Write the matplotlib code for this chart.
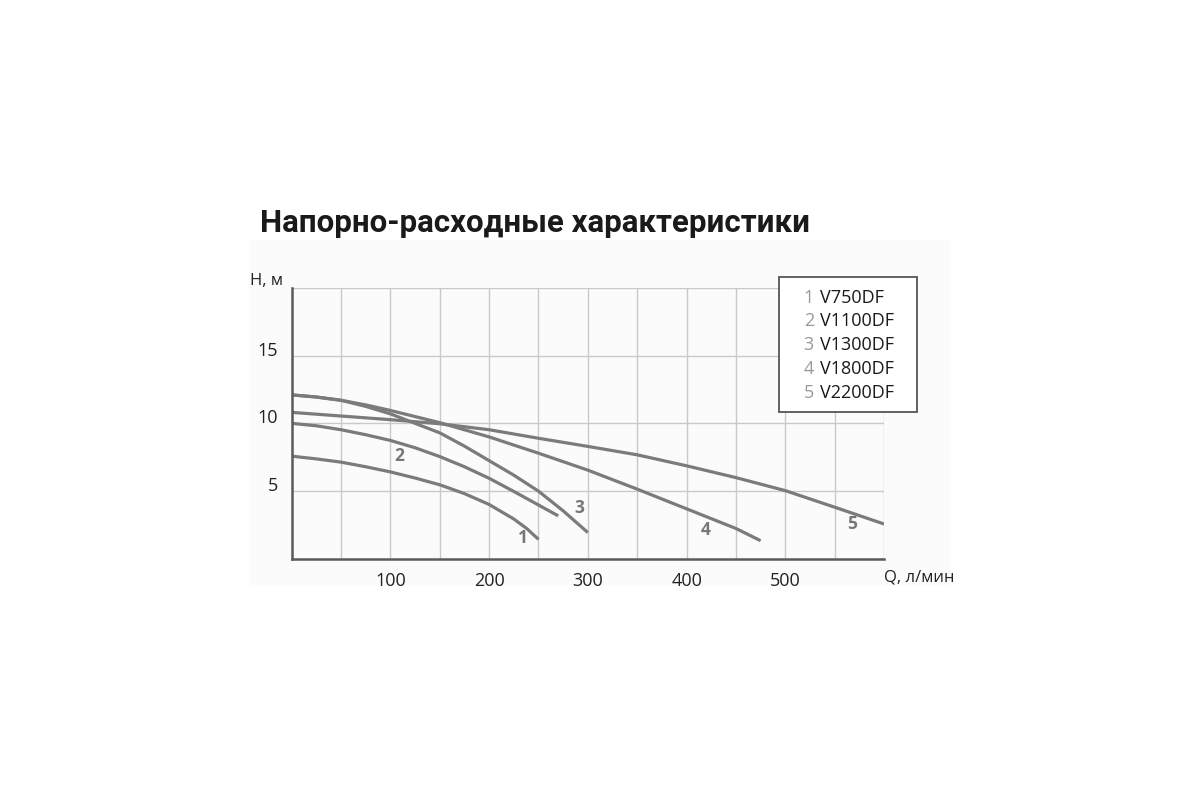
import matplotlib
matplotlib.use("Agg")
import matplotlib.pyplot as plt
from matplotlib.patches import Rectangle

# ---- data ----
q1 = [0, 25, 50, 75, 100, 125, 150, 175, 200, 225, 238, 250]
h1 = [7.58, 7.38, 7.14, 6.8, 6.42, 5.97, 5.47, 4.82, 4.02, 2.95, 2.25, 1.45]
q2 = [0, 25, 50, 75, 100, 125, 150, 175, 200, 225, 250, 270]
h2 = [10.0, 9.82, 9.53, 9.16, 8.74, 8.2, 7.55, 6.8, 5.95, 4.98, 3.98, 3.18]
q3 = [0, 25, 50, 75, 100, 119, 150, 175, 200, 225, 250, 275, 300]
h3 = [12.1, 11.94, 11.7, 11.25, 10.7, 10.17, 9.3, 8.32, 7.25, 6.18, 5.0, 3.55, 1.95]
q4 = [0, 25, 50, 75, 100, 125, 150, 200, 250, 300, 350, 400, 450, 475]
h4 = [12.1, 11.94, 11.7, 11.36, 10.95, 10.5, 10.05, 9.0, 7.8, 6.55, 5.15, 3.7, 2.25, 1.35]
q5 = [0, 50, 100, 150, 200, 250, 300, 350, 400, 450, 500, 550, 600]
h5 = [10.81, 10.54, 10.27, 9.97, 9.53, 8.9, 8.3, 7.68, 6.87, 6.0, 5.04, 3.82, 2.58]

curve_ids = ["1", "2", "3", "4", "5"]
models = ["V750DF", "V1100DF", "V1300DF", "V1800DF", "V2200DF"]
label_q = [234, 109, 291, 419, 568]
label_h = [1.55, 7.6, 3.75, 2.15, 2.6]

x_ticks = [100, 200, 300, 400, 500]
y_ticks = [5, 10, 15]

title = "Напорно-расходные характеристики"
y_label = "H, м"
x_label = "Q, л/мин"

plt.rcParams['font.family'] = ['Open Sans', 'DejaVu Sans']

fig = plt.figure(figsize=(12, 8), dpi=100)
fig.patch.set_facecolor("white")
# faint background panel
fig.patches.append(Rectangle((250/1200, 1-585/800), 700/1200, 345/800,
                             transform=fig.transFigure, facecolor="#fbfbfb",
                             edgecolor="none", zorder=-5))

ax = fig.add_axes([291.7/1200, 1-559/800, 592.3/1200, 271.3/800])
ax.set_zorder(2)
ax.set_facecolor("none")
ax.set_xlim(0, 600)
ax.set_ylim(0, 20)

for x in range(50, 601, 50):
    ax.axvline(x, color="#c9c9c9", lw=1.0, zorder=1)
for y in [5, 10, 15, 20]:
    ax.axhline(y, color="#c9c9c9", lw=1.0, zorder=1)

lc = "#7b7b7b"
for q, h in [(q1, h1), (q2, h2), (q3, h3), (q4, h4), (q5, h5)]:
    ax.plot(q, h, color=lc, lw=2.3, solid_capstyle="butt",
            solid_joinstyle="round", zorder=3)

for t, x, y in zip(curve_ids, label_q, label_h):
    ax.text(x, y, t, color="#777777", fontsize=12.5, fontweight="bold",
            ha="center", va="center", zorder=4)

for s in ["top", "right"]:
    ax.spines[s].set_visible(False)
for s in ["left", "bottom"]:
    ax.spines[s].set_color("#5a5a5a")
    ax.spines[s].set_linewidth(1.8)
    ax.spines[s].set_zorder(5)

ax.set_xticks(x_ticks)
ax.set_yticks(y_ticks)
ax.tick_params(length=0, labelsize=13, colors="#222222")
ax.tick_params(axis="x", pad=9)
ax.tick_params(axis="y", pad=10)
for lbl in ax.get_yticklabels():
    lbl.set_va("baseline")

fig.text(283/1200, 1-281/800, y_label, ha="right", va="center",
         fontsize=12, color="#222222")
fig.text(884/1200, 1-578/800, x_label, ha="left", va="center",
         fontsize=12, color="#222222")

fig.text(260/1200, 1-223/800, title, ha="left", va="center",
         fontsize=22.5, fontweight="bold", color="#1a1a1a",
         family=["Roboto", "DejaVu Sans"])

# legend box
lx0, ly0, lx1, ly1 = 779, 276.7, 916.7, 412
fig.patches.append(Rectangle((lx0/1200, 1-ly1/800), (lx1-lx0)/1200, (ly1-ly0)/800,
                             transform=fig.transFigure, facecolor="white",
                             edgecolor="#555555", lw=1.3, zorder=10))
rows = [298, 321.5, 345, 368.5, 393]
for t, m, yy in zip(curve_ids, models, rows):
    fig.text(814/1200, 1-yy/800, t, ha="right", va="center", fontsize=13,
             color="#999999", zorder=11)
    fig.text(820/1200, 1-yy/800, m, ha="left", va="center", fontsize=13,
             color="#1a1a1a", zorder=11)

fig.savefig("out.png", dpi=100)
